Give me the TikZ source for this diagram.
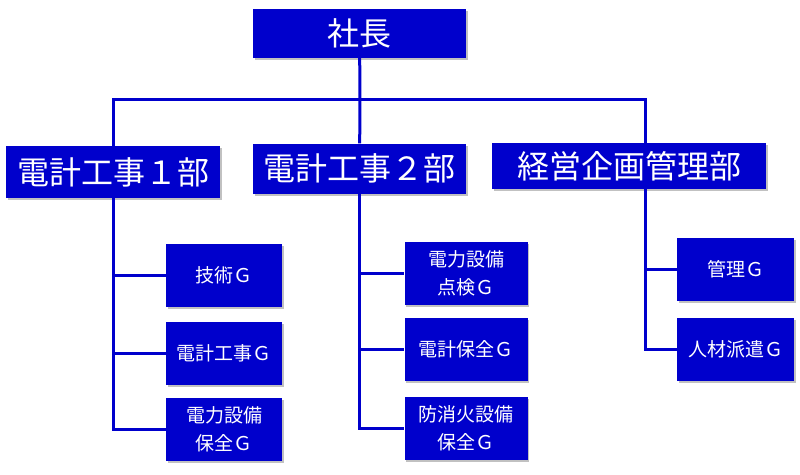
\documentclass[tikz,border=0pt]{standalone}
\usepackage{fontspec}
\setmainfont{Noto Sans CJK JP}
\usetikzlibrary{shadows}
\definecolor{orgblue}{HTML}{0000CC}
\tikzset{%
  % Specifications for style of nodes:
        boxbase/.style = {rectangle, fill=orgblue, text=white, inner sep=0pt,
                          align=center,
                          drop shadow={shadow xshift=1.5pt, shadow yshift=-2pt,
                                       opacity=0.35, fill=black!70}},
           head/.style = {boxbase, minimum width=213pt, minimum height=49pt,
                          font=\fontsize{32}{36}\selectfont},
           dept/.style = {boxbase, minimum height=50pt,
                          font=\fontsize{32}{36}\selectfont},
          group/.style = {boxbase, minimum height=63pt,
                          font=\fontsize{19}{28}\selectfont},
  % Specifications for style of lines:
        orgline/.style = {draw=orgblue, line width=3pt}
}

\begin{document}
\begin{tikzpicture}[x=1pt, y=-1pt]
  \useasboundingbox (0,0) rectangle (800,474);

  \node (shacho) [head] at (359.5,33) {社長};

  \node (dept1) [dept, minimum width=214pt, minimum height=52pt] at (113,172) {電計工事１部};
  \node (dept2) [dept, minimum width=213pt] at (359.5,168.5) {電計工事２部};
  \node (dept3) [dept, minimum width=274pt, minimum height=46pt] at (629,166) {経営企画管理部};

  %\node (gijutsu)[group, below of=dept1] {技術Ｇ};
  \node (gijutsu) [group, minimum width=116pt] at (224,275.5) {技術Ｇ};
  \node (denkoji) [group, minimum width=116pt] at (224,353)   {電計工事Ｇ};
  \node (hozen1)  [group, minimum width=116pt] at (224,429)   {電力設備\\保全Ｇ};

  \node (tenken)  [group, minimum width=123pt] at (466,273)   {電力設備\\点検Ｇ};
  \node (hozen2)  [group, minimum width=123pt] at (466,349.5) {電計保全Ｇ};
  \node (shoka)   [group, minimum width=123pt] at (466,428)   {防消火設備\\保全Ｇ};

  \node (kanri)   [group, minimum width=117pt] at (735.5,269.5) {管理Ｇ};
  \node (haken)   [group, minimum width=117pt] at (735.5,349.5) {人材派遣Ｇ};

  \coordinate (hub)   at (360,99);
  \coordinate (d3in)  at (645,143);
  \coordinate (d3out) at (645,189);

    \draw[orgline]   (shacho) -- (hub);
    \draw[orgline]   (hub) -| (dept1);
    \draw[orgline]   (hub) -- (dept2);
    \draw[orgline]   (hub) -| (d3in);

    \draw[orgline]   (dept1.south) |- (gijutsu.west);
    \draw[orgline]   (dept1.south) |- (denkoji.west);
    \draw[orgline]   (dept1.south) |- (hozen1.west);

    \draw[orgline]   (dept2.south) |- (tenken.west);
    \draw[orgline]   (dept2.south) |- (hozen2.west);
    \draw[orgline]   (dept2.south) |- (shoka.west);

    \draw[orgline]   (d3out) |- (kanri.west);
    \draw[orgline]   (d3out) |- (haken.west);
\end{tikzpicture}
\end{document}
